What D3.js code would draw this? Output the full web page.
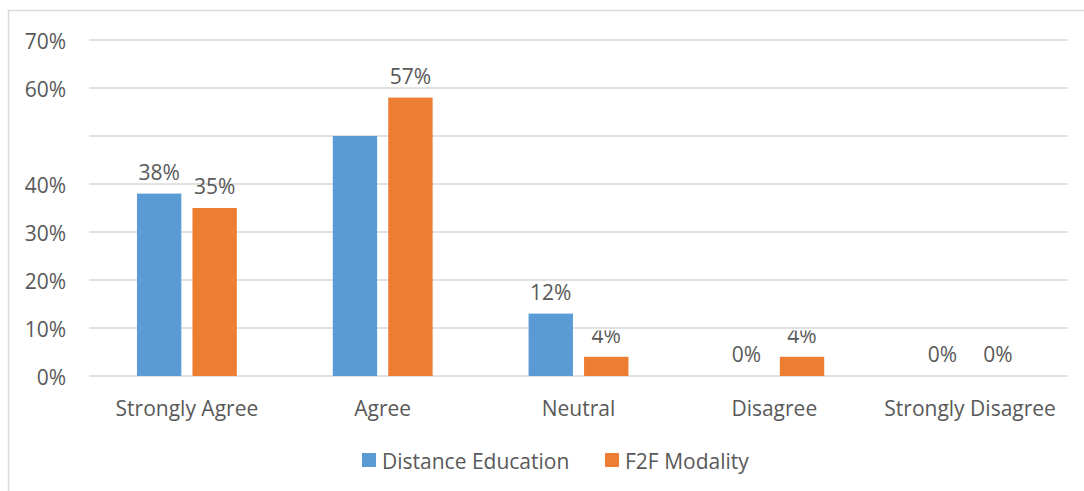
<!DOCTYPE html>
<html>
<head>
<meta charset="utf-8">
<script src="https://cdnjs.cloudflare.com/ajax/libs/d3/7.8.5/d3.min.js"></script>
<style>
    body { margin: 0; background: #fff; }
    text { font-family: "Open Sans", sans-serif; fill: #595959; }
</style>
</head>
<body>
<div id="chart"></div>
<script>
// values
var categories = ["Strongly Agree", "Agree", "Neutral", "Disagree", "Strongly Disagree"];
var seriesNames = ["Distance Education", "F2F Modality"];
var distanceValues = [38, 50, 13, 0, 0];
var f2fValues = [35, 58, 4, 4, 0];
var distanceLabels = ["38%", "", "12%", "0%", "0%"];
var f2fLabels = ["35%", "57%", "4%", "4%", "0%"];
var gridTicks = [0, 10, 20, 30, 40, 50, 60, 70];
var labelTicks = [0, 10, 20, 30, 40, 60, 70];
var colors = ["#5B9BD5", "#ED7D31"];

var width = 1084, height = 491;
var margin = {top: 40, right: 16, bottom: 115, left: 89};
var fontSize = 21;

var svg = d3.select("#chart").append("svg")
    .attr("width", width)
    .attr("height", height);

// chart area border (only top and left visible)
svg.append("path")
    .attr("d", "M8.5," + height + "V10.5H" + width)
    .attr("fill", "none")
    .attr("stroke", "#d9d9d9")
    .attr("stroke-width", 1.5);

var y = d3.scaleLinear().domain([0, 70]).range([376, 40]);
var x0 = d3.scaleBand().domain(categories)
    .range([margin.left, width - margin.right])
    .paddingInner(0.49).paddingOuter(0.245);
var x1 = d3.scaleBand().domain(seriesNames)
    .range([0, x0.bandwidth()])
    .paddingInner(0.2);

// gridlines
svg.append("g").selectAll("line")
    .data(gridTicks)
    .enter().append("line")
    .attr("x1", margin.left)
    .attr("x2", width - margin.right)
    .attr("y1", function(d){ return y(d); })
    .attr("y2", function(d){ return y(d); })
    .attr("stroke", "#d9d9d9")
    .attr("stroke-width", 1.5);

// y labels (50% is not shown in the original)
var yAxis = d3.axisLeft(y).tickValues(labelTicks)
    .tickFormat(function(d){ return d + "%"; })
    .tickSize(0).tickPadding(23);
var ya = svg.append("g").attr("transform", "translate(" + margin.left + ",2)").call(yAxis);
ya.select(".domain").remove();
ya.selectAll("text").style("font-size", fontSize + "px").attr("fill", "#595959")
    .style("font-family", "Open Sans, sans-serif");

// x labels
var xAxis = d3.axisBottom(x0).tickSize(0).tickPadding(25);
var xa = svg.append("g").attr("transform", "translate(0," + y(0) + ")").call(xAxis);
xa.select(".domain").remove();
xa.selectAll("text").style("font-size", fontSize + "px").attr("fill", "#595959")
    .style("font-family", "Open Sans, sans-serif");

var rows = categories.map(function(c, i){
    return [
        {cat: c, s: seriesNames[0], v: distanceValues[i], label: distanceLabels[i], color: colors[0]},
        {cat: c, s: seriesNames[1], v: f2fValues[i], label: f2fLabels[i], color: colors[1]}
    ];
});
var flat = d3.merge(rows);

// clip for labels that run into the 10% gridline
svg.append("clipPath").attr("id", "lowclip")
    .append("rect")
    .attr("x", 0).attr("width", width)
    .attr("y", y(10) + 2.5).attr("height", height);

svg.append("g").selectAll("rect")
    .data(flat)
    .enter().append("rect")
    .attr("x", function(d){ return x0(d.cat) + x1(d.s); })
    .attr("width", x1.bandwidth())
    .attr("y", function(d){ return y(d.v); })
    .attr("height", function(d){ return y(0) - y(d.v); })
    .attr("fill", function(d){ return d.color; });

svg.append("g").selectAll("text")
    .data(flat.filter(function(d){ return d.label != ""; }))
    .enter().append("text")
    .attr("x", function(d){ return x0(d.cat) + x1(d.s) + x1.bandwidth() / 2; })
    .attr("y", function(d){ return y(d.v) - 14; })
    .attr("text-anchor", "middle")
    .style("font-size", fontSize + "px")
    .attr("clip-path", function(d){
        var top = y(d.v) - 14 - 16;
        return (top < y(10) && y(d.v) - 14 > y(10)) ? "url(#lowclip)" : null;
    })
    .text(function(d){ return d.label; });

// legend
var legend = svg.append("g").attr("transform", "translate(0,460)");
var legendX = [362, 605];
seriesNames.forEach(function(s, i){
    legend.append("rect")
        .attr("x", legendX[i]).attr("y", -7)
        .attr("width", 14).attr("height", 14)
        .attr("fill", colors[i]);
    legend.append("text")
        .attr("x", legendX[i] + 20).attr("y", 9)
        .style("font-size", fontSize + "px")
        .text(s);
});
</script>
</body>
</html>
